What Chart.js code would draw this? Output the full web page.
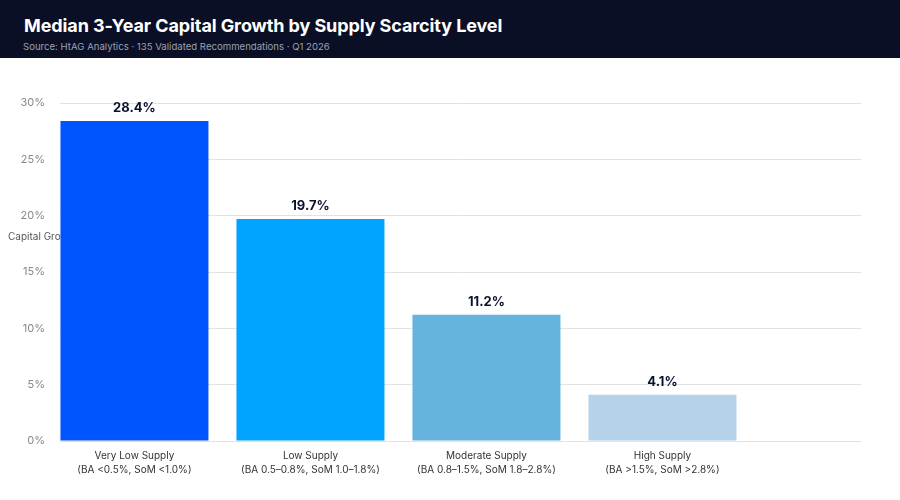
<!DOCTYPE html>
<html><head><meta charset="utf-8">
<script src="https://cdn.jsdelivr.net/npm/chart.js@4.4.1/dist/chart.umd.min.js"></script>
<style>
html,body{margin:0;padding:0;background:#fff;}
#wrap{position:relative;width:900px;height:500px;background:#fff;}
#chart{position:absolute;left:0;top:0;}
#hdr{position:absolute;left:0;top:0;width:900px;height:58px;background:#0a0f26;font-family:Inter,"Noto Sans",sans-serif;}
#ttl{position:absolute;left:24px;top:14px;color:#fff;font-weight:700;font-size:18px;line-height:24px;letter-spacing:-0.1px;white-space:nowrap;}
#sub{position:absolute;left:23px;top:40px;color:#9aa1b3;font-size:9.6px;line-height:13px;white-space:nowrap;}
</style></head>
<body>
<div id="wrap">
<canvas id="chart" width="900" height="500"></canvas>
<div id="hdr"><div id="ttl">Median 3-Year Capital Growth by Supply Scarcity Level</div>
<div id="sub">Source: HtAG Analytics · 135 Validated Recommendations · Q1 2026</div></div>
</div>
<script>
const categoryNames = ["Very Low Supply", "Low Supply", "Moderate Supply", "High Supply"];
const categoryRanges = ["(BA <0.5%, SoM <1.0%)", "(BA 0.5–0.8%, SoM 1.0–1.8%)", "(BA 0.8–1.5%, SoM 1.8–2.8%)", "(BA >1.5%, SoM >2.8%)"];
const growthValues = [28.4, 19.7, 11.2, 4.1];
const yTickValues = [0, 5, 10, 15, 20, 25, 30];
const yAxisTitle = "Capital Growth %";
const barColors = ["#0055ff", "#00a3ff", "#66b4de", "#b4d3ea"];

const FONT = 'Inter, "Noto Sans", sans-serif';

const yTitlePlugin = {
  id: 'yTitle',
  beforeDatasetsDraw(chart) {
    const ctx = chart.ctx;
    ctx.save();
    ctx.font = '10px ' + FONT;
    ctx.fillStyle = '#555555';
    ctx.textAlign = 'left';
    ctx.textBaseline = 'middle';
    ctx.fillText(yAxisTitle, 8, chart.chartArea.top + 134);
    ctx.restore();
  }
};

const valueLabelPlugin = {
  id: 'valueLabels',
  afterDatasetsDraw(chart) {
    const ctx = chart.ctx;
    const meta = chart.getDatasetMeta(0);
    ctx.save();
    ctx.font = 'bold 13px ' + FONT;
    ctx.fillStyle = '#0b1230';
    ctx.textAlign = 'center';
    ctx.textBaseline = 'bottom';
    meta.data.forEach((bar, i) => {
      ctx.fillText(growthValues[i].toFixed(1) + '%', bar.x, bar.y - 6);
    });
    ctx.restore();
  }
};

new Chart(document.getElementById('chart'), {
  type: 'bar',
  data: {
    datasets: [{
      data: growthValues.map((v, i) => ({ x: i, y: v })),
      backgroundColor: barColors,
      borderWidth: 0,
      barPercentage: 148 / 176,
      categoryPercentage: 1
    }]
  },
  options: {
    responsive: false,
    animation: false,
    layout: { padding: { top: 103, right: 39, bottom: 23, left: 0 } },
    plugins: { legend: { display: false }, tooltip: { enabled: false } },
    scales: {
      x: {
        type: 'linear',
        offset: false,
        min: -0.423,
        max: 4.128,
        afterBuildTicks(scale) { scale.ticks = categoryNames.map((_, i) => ({ value: i })); },
        grid: { display: false },
        border: { display: false },
        ticks: {
          autoSkip: false,
          maxRotation: 0,
          padding: 0,
          color: '#333333',
          font: { family: FONT, size: 10, lineHeight: 1.4 },
          callback: (v) => [categoryNames[v], categoryRanges[v]]
        }
      },
      y: {
        min: 0,
        max: 30,
        afterBuildTicks(scale) { scale.ticks = yTickValues.map(v => ({ value: v })); },
        afterFit(scale) { scale.width = 60; },
        grid: { color: '#e2e2e2', lineWidth: 1, drawTicks: false },
        border: { display: false },
        ticks: {
          padding: 15,
          color: '#888888',
          font: { family: FONT, size: 11 },
          callback: (v) => v + '%'
        }
      }
    }
  },
  plugins: [yTitlePlugin, valueLabelPlugin]
});
</script>
</body></html>
